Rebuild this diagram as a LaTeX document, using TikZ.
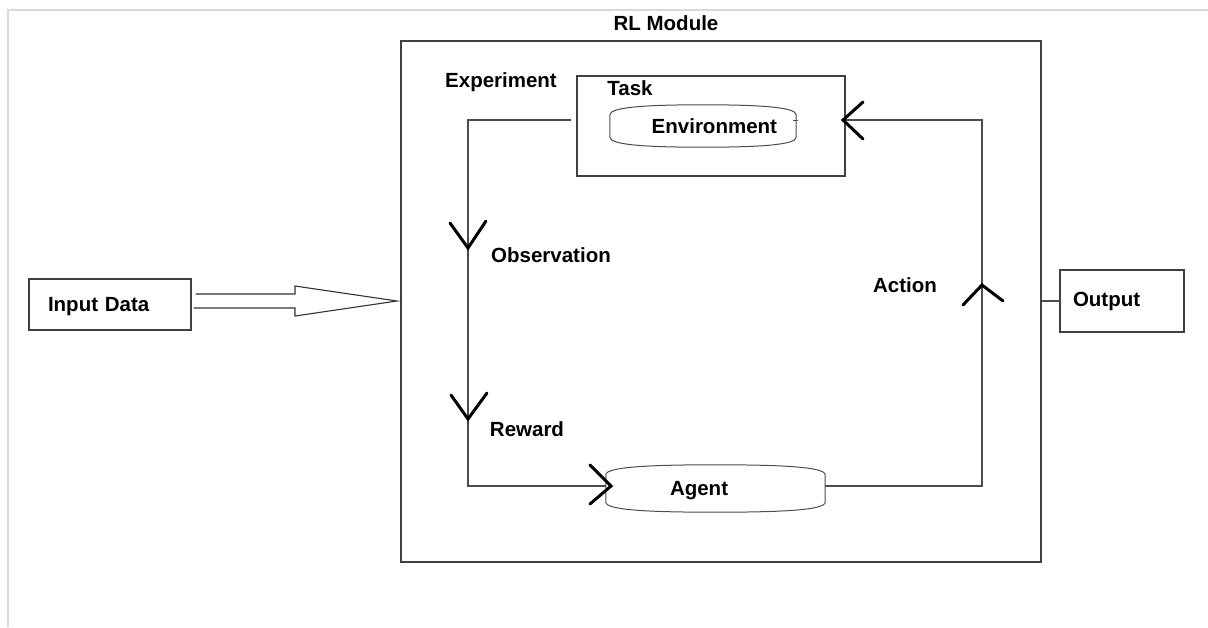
\documentclass[tikz,border=0pt]{standalone}
\usepackage{fontspec}
\setmainfont{Liberation Sans}
\usetikzlibrary{calc}
\tikzset{
  txt/.style={font=\fontsize{20.5}{24}\selectfont\bfseries, inner sep=0pt, text=black},
  box/.style={draw=black!75, line width=1.2pt, rectangle, txt},
  drum/.style={rectangle, txt},
  drumline/.style={draw=black!70, line width=1pt},
  conn/.style={draw=black!70, line width=1.2pt},
  chev/.style={draw=black, line width=3pt, line cap=round, line join=miter},
  frame/.style={draw=black!15, line width=2pt}
}
\begin{document}
\begin{tikzpicture}[x=1pt,y=-1pt]
\useasboundingbox (0,0) rectangle (1208,627);
\draw[frame] (8,627) -- (8,10) -- (1208,10);

% main boxes
\node[box, minimum width=640, minimum height=521] (rl) at (721,301.5) {};
\node[txt] (rllab) at (666,23) {RL Module};
\node[box, minimum width=268, minimum height=100] (task) at (711,126) {};
\node[txt] (tasklab) at (630,88) {Task};
\node[txt] (explab) at (501,82) {Experiment};
\node[drum, minimum width=186, minimum height=42, text width=148, align=right, inner xsep=19pt] (env) at (703,126) {Environment};
\node[drum, minimum width=219, minimum height=47, text width=91, align=left, inner xsep=64pt, text depth=0pt] (agent) at (715.5,488.5) {Agent};
\node[box, minimum width=162, minimum height=51, text width=124, align=left, inner xsep=18pt, text depth=0pt] (in) at (110,304.5) {Input Data};
\node[box, minimum width=124, minimum height=62, text width=98, align=left, inner xsep=13pt] (out) at (1122,301) {Output};

% drum outlines
\draw[drumline] ($(env.north west)+(0,10)$) .. controls ($(env.north west)+(0,2)$) and ($(env.north west)+(40,0)$) .. (env.north)
  .. controls ($(env.north east)+(-40,0)$) and ($(env.north east)+(0,2)$) .. ($(env.north east)+(0,10)$)
  -- ($(env.south east)+(0,-10)$) .. controls ($(env.south east)+(0,-2)$) and ($(env.south east)+(-40,0)$) .. (env.south)
  .. controls ($(env.south west)+(40,0)$) and ($(env.south west)+(0,-2)$) .. ($(env.south west)+(0,-10)$) -- cycle;
\draw[drumline] ($(agent.north west)+(0,10)$) .. controls ($(agent.north west)+(0,2)$) and ($(agent.north west)+(45,0)$) .. (agent.north)
  .. controls ($(agent.north east)+(-45,0)$) and ($(agent.north east)+(0,2)$) .. ($(agent.north east)+(0,10)$)
  -- ($(agent.south east)+(0,-10)$) .. controls ($(agent.south east)+(0,-2)$) and ($(agent.south east)+(-45,0)$) .. (agent.south)
  .. controls ($(agent.south west)+(45,0)$) and ($(agent.south west)+(0,-2)$) .. ($(agent.south west)+(0,-10)$) -- cycle;

% labels
\node[txt] (obslab) at (551,255) {Observation};
\node[txt] (rewlab) at (527,429) {Reward};
\node[txt] (actlab) at (905,285) {Action};

% coordinates
\coordinate (obsstart) at (571,120);
\coordinate (lcorner) at (468,486);
\coordinate (rcorner) at (982,486);
\coordinate (acttop) at (982,120);

% observation / reward path
\draw[conn] (obsstart) -| (lcorner) -- (agent.west |- lcorner);
% action path
\draw[conn] (agent.east |- rcorner) -- (rcorner) -- (acttop) -- (task.east |- acttop);
% output link
\draw[conn] (rl.east |- out.west) -- (out.west);
% env tick
\draw[conn, line width=1pt] (793,120) -- (798,120);

% chevrons
\draw[chev] (450,223) -- (468,248) -- (486,221);
\draw[chev] (451,395) -- (468,419) -- (487,393);
\draw[chev] (590,465) -- (611,486) -- (590,504);
\draw[chev] (863,102) -- (843,120) -- (863,139);
\draw[chev] (963,305) -- (982,285) -- (1003,301);

% hollow input arrow
\coordinate (tip) at (397,301);
\draw[draw=black!80, line width=1.1pt] ($(in.east)+(4,-10.5)$) -- (295,294) -- (295,286) -- (tip) -- (295,316) -- (295,308) -- ($(in.east)+(2,3.5)$);
\end{tikzpicture}
\end{document}
